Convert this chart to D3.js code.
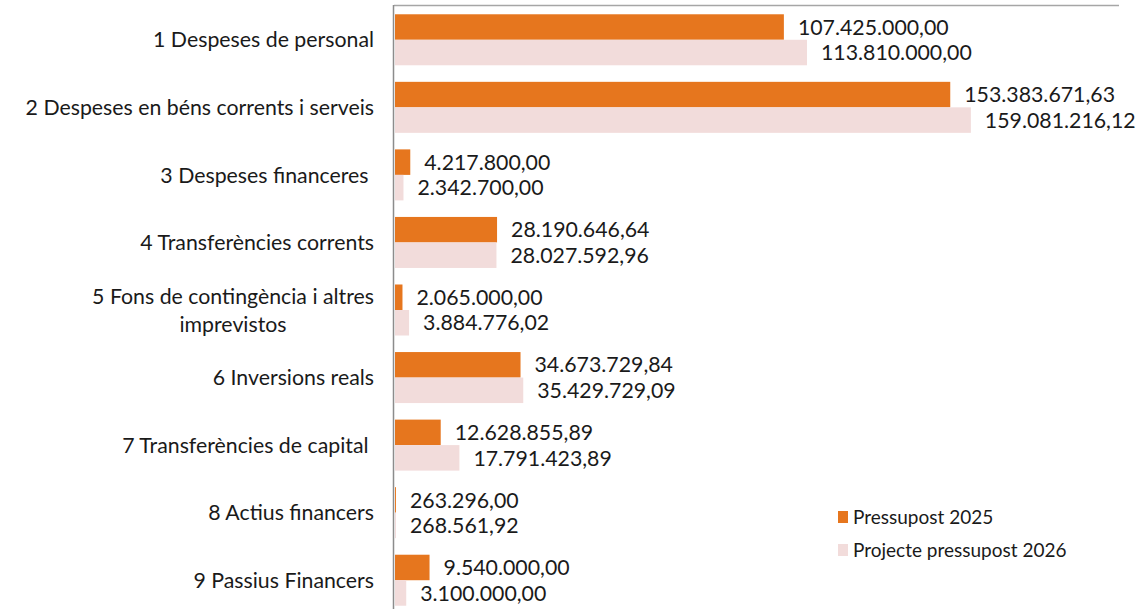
<!DOCTYPE html>
<html><head><meta charset="utf-8">
<script src="https://cdn.jsdelivr.net/npm/d3@7"></script>
<style>body{margin:0;background:#fff}svg{display:block}text{font-family:Lato,"Noto Sans",sans-serif;fill:#1a1a1a}</style>
</head><body><svg id="c" width="1136" height="609"></svg>
<script>
const categories = ["1 Despeses de personal","2 Despeses en béns corrents i serveis","3 Despeses financeres ","4 Transferències corrents","5 Fons de contingència i altres|imprevistos","6 Inversions reals","7 Transferències de capital ","8 Actius financers","9 Passius Financers"];
const pressupost2025 = [107425000.00,153383671.63,4217800.00,28190646.64,2065000.00,34673729.84,12628855.89,263296.00,9540000.00];
const projecte2026 = [113810000.00,159081216.12,2342700.00,28027592.96,3884776.02,35429729.09,17791423.89,268561.92,3100000.00];
const seriesNames = ["Pressupost 2025","Projecte pressupost 2026"];
const colors = ["#E6761E","#F2DCDB"];

(function(){
const svg = d3.select("#c");
const pL = 395, pR = 1119, pT = 6, pB = 614;
const fs = 21.3;
const x = d3.scaleLinear().domain([0,200000000]).range([pL,pR]);
const y = d3.scaleBand().domain(categories).range([pT,pB]).paddingInner(0.245).paddingOuter(0.1225);
const inner = d3.scaleBand().domain([0,1]).range([0,y.bandwidth()]);
const fmt = v => {
  const [i,d] = v.toFixed(2).split(".");
  return i.replace(/\B(?=(\d{3})+(?!\d))/g,".")+","+d;
};
svg.append("line").attr("x1",pL-1).attr("x2",pR).attr("y1",pT-0.5).attr("y2",pT-0.5).attr("stroke","#a6a6a6").attr("stroke-width",1.5);
const data = [pressupost2025, projecte2026];
data.forEach((vals,si)=>{
  svg.append("g").selectAll("rect").data(vals).join("rect")
    .attr("x",x(0)).attr("y",(d,i)=>y(categories[i])+inner(si))
    .attr("width",d=>x(d)-x(0)).attr("height",inner.bandwidth())
    .attr("fill",colors[si]);
  svg.append("g").selectAll("text").data(vals).join("text")
    .attr("x",d=>x(d)+14).attr("y",(d,i)=>y(categories[i])+inner(si)+inner.bandwidth()/2)
    .attr("dy","0.36em").attr("font-size",fs).text(d=>fmt(d));
});
svg.append("line").attr("x1",pL-1.5).attr("x2",pL-1.5).attr("y1",pT-1).attr("y2",609).attr("stroke","#8c8c8c").attr("stroke-width",1.5);
const lab = svg.append("g");
categories.forEach(c=>{
  const lines = c.split("|");
  const cy = y(c)+y.bandwidth()/2;
  if(lines.length===1){
    lab.append("text").attr("x",374).attr("y",cy).attr("dy","0.36em").attr("text-anchor","end")
      .attr("font-size",fs).style("white-space","pre").text(lines[0]);
  } else {
    const t1 = lab.append("text").attr("x",374).attr("y",cy-14).attr("dy","0.36em").attr("text-anchor","end")
      .attr("font-size",fs).style("white-space","pre").text(lines[0]);
    const w = t1.node().getComputedTextLength();
    lab.append("text").attr("x",374-w/2).attr("y",cy+14).attr("dy","0.36em").attr("text-anchor","middle")
      .attr("font-size",fs).text(lines[1]);
  }
});
const lg = svg.append("g");
seriesNames.forEach((n,i)=>{
  lg.append("rect").attr("x",838).attr("y",511+i*33).attr("width",10).attr("height",12).attr("fill",colors[i]);
  lg.append("text").attr("x",853).attr("y",517+i*33).attr("dy","0.36em").attr("font-size",19).text(n);
});
})();
</script></body></html>
